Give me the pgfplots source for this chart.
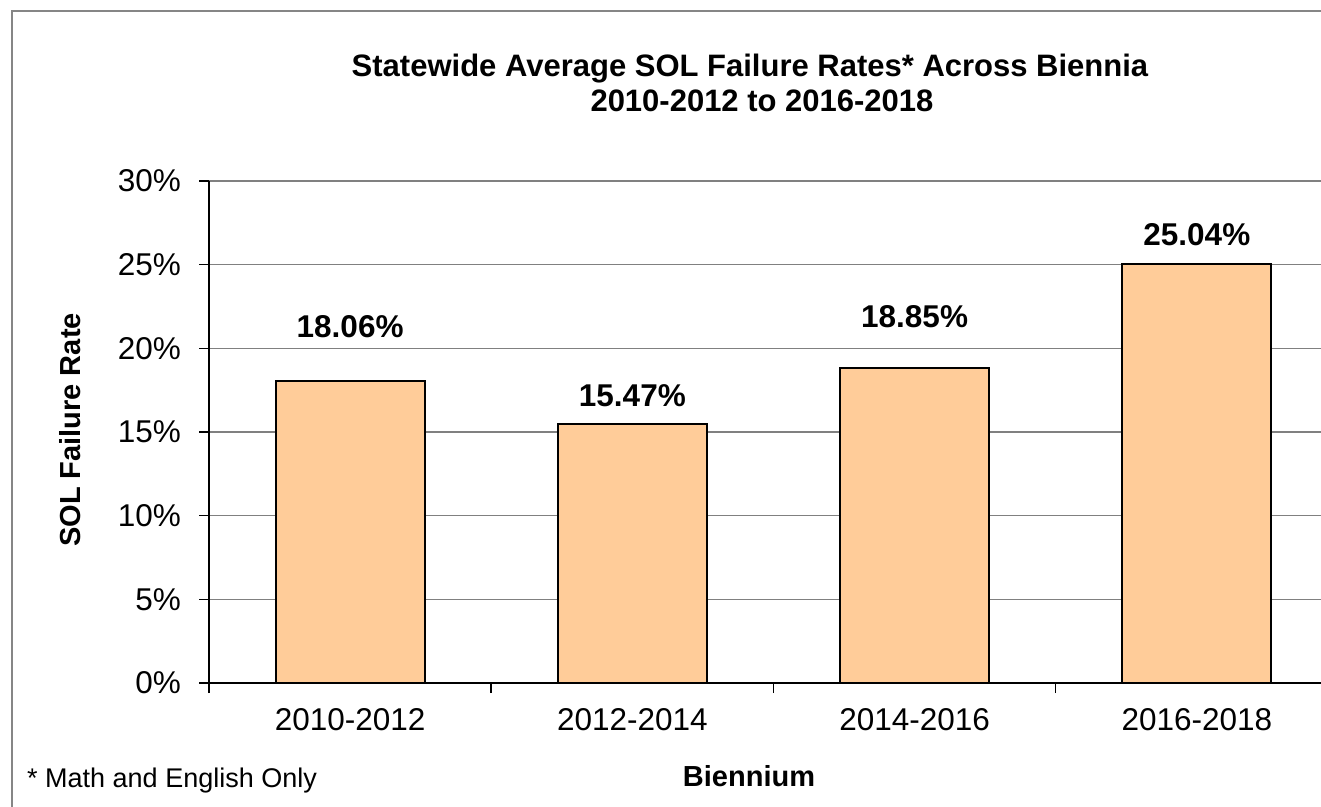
\documentclass[border=0pt]{standalone}
\usepackage{pgfplots}
\pgfplotsset{compat=1.18}
\usepackage{fontspec}
\setmainfont{Liberation Sans}
\definecolor{barfill}{RGB}{255,204,153}
\definecolor{framegray}{RGB}{134,134,134}
\definecolor{gridgray}{RGB}{128,128,128}
\pgfplotstableread{
x y s
0 18.06 43
1 15.47 18
2 18.85 40
3 25.04 18
}\rates
\begin{document}
\begin{tikzpicture}[x=1bp,y=1bp]
\useasboundingbox (0,0) rectangle (1321,806);
\fill[white] (0,0) rectangle (1321,806);
\draw[framegray, line width=2.5bp] (1400,795) -- (12,795) -- (12,-100);
\begin{axis}[
  at={(209bp,123bp)}, anchor=south west,
  scale only axis, width=1129bp, height=502bp,
  xmin=-0.5, xmax=3.5, ymin=0, ymax=30,
  axis x line*=bottom, axis y line*=left,
  axis line style={black, line width=1.5bp},
  ytick={0,5,10,15,20,25,30},
  yticklabels={0\%,5\%,10\%,15\%,20\%,25\%,30\%},
  ymajorgrids, grid style={gridgray, line width=1.5bp},
  xtick={0,1,2,3},
  xticklabels={2010-2012,2012-2014,2014-2016,2016-2018},
  minor xtick={-0.5,0.5,1.5,2.5,3.5},
  tick align=outside,
  major tick length=10bp, minor tick length=10bp,
  tick style={black, line width=1.5bp},
  x tick style={draw=none},
  minor x tick style={draw=black, line width=1.5bp},
  ticklabel style={font=\fontsize{31.5bp}{37bp}\selectfont},
  y tick label style={inner sep=0pt, xshift=-18bp},
  x tick label style={inner sep=0pt, yshift=-15bp},
  ybar, bar width=149bp,
  visualization depends on={\thisrow{s} \as \labshift},
  nodes near coords={\pgfmathprintnumber[fixed,fixed zerofill,precision=2,assume math mode=true]{\pgfplotspointmeta}\%},
  nodes near coords style={font=\bfseries\fontsize{31.5bp}{37bp}\selectfont, anchor=base, inner sep=0pt, yshift=\labshift bp},
  clip=false,
]
\addplot[fill=barfill, draw=black, line width=2bp] table[x=x, y=y] {\rates};
\end{axis}
\node[font=\bfseries\fontsize{31bp}{37bp}\selectfont, anchor=base, inner sep=0pt] at (750,729) {Statewide Average SOL Failure Rates* Across Biennia};
\node[font=\bfseries\fontsize{31bp}{37bp}\selectfont, anchor=base, inner sep=0pt] at (762,694) {2010-2012 to 2016-2018};
\node[font=\bfseries\fontsize{29bp}{35bp}\selectfont, rotate=90, inner sep=0pt] at (70,376) {SOL Failure Rate};
\node[font=\bfseries\fontsize{29bp}{35bp}\selectfont, anchor=base, inner sep=0pt] at (749,20) {Biennium};
\node[font=\fontsize{27bp}{32bp}\selectfont, anchor=base west, inner sep=0pt] at (27,19) {* Math and English Only};
\end{tikzpicture}
\end{document}
